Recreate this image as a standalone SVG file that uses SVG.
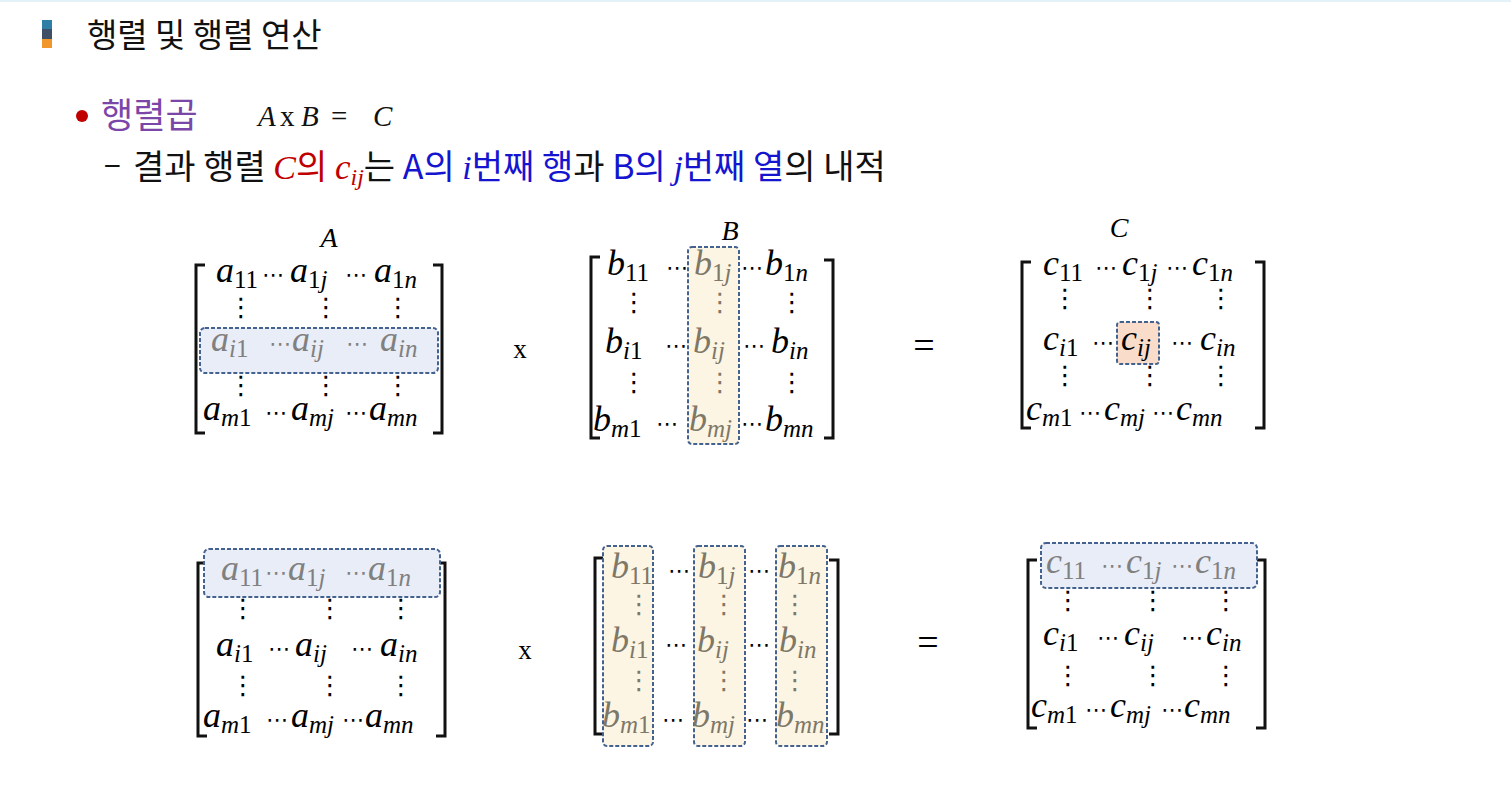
<svg xmlns="http://www.w3.org/2000/svg" width="1511" height="790" viewBox="0 0 1511 790">
<style>
.k{font-family:"Noto Sans CJK KR","Noto Sans",sans-serif}
.m{font-family:"Liberation Serif",serif;font-style:italic;font-size:36px;fill:#000}
.s{font-size:25px;font-style:normal}
.i{font-style:italic}
.d{font-family:"DejaVu Sans",sans-serif;font-size:22px;font-style:normal;fill:#000}
.v{font-size:26px;text-anchor:middle}
.g{fill:#808080}
.y{fill:#7D7868}
.br{fill:none;stroke:#111;stroke-width:3}
.hb{fill:#E9EDF7;stroke:#44628F;stroke-width:2;stroke-dasharray:4 2}
.hy{fill:#FDF5E3;stroke:#44628F;stroke-width:2;stroke-dasharray:4 2}
.hp{fill:#FADCCB;stroke:#44628F;stroke-width:2;stroke-dasharray:4 2}
.op{font-family:"Liberation Serif",serif;font-size:27px;fill:#000;text-anchor:middle}
.eq{font-family:"Liberation Serif",serif;font-size:38px;fill:#000;text-anchor:middle}
.lb{font-family:"Liberation Serif",serif;font-style:italic;font-size:28px;fill:#000;text-anchor:middle}
.mi{font-family:"Liberation Serif",serif;font-style:italic}
</style>
<rect x="0" y="0" width="1511" height="2" fill="#E4F1F8"/>
<g id="header">
<rect x="42" y="20" width="10" height="9" fill="#2E7EA6"/>
<rect x="42" y="29" width="10" height="10" fill="#3E4F66"/>
<rect x="42" y="39" width="10" height="9" fill="#F0962A"/>
<text class="k" x="87" y="47" font-size="33" fill="#111">행렬 및 행렬 연산</text>
</g>
<g id="bullet">
<circle cx="82" cy="116" r="6" fill="#C00000"/>
<text class="k" x="101" y="128" font-size="35" fill="#7A46A8">행렬곱</text>
<g font-family="Liberation Serif,serif" font-size="29" fill="#111">
<text x="258" y="126" font-style="italic">A</text>
<text x="280" y="126">x</text>
<text x="301" y="126" font-style="italic">B</text>
<text x="331" y="126">=</text>
<text x="373" y="126" font-style="italic">C</text>
</g>
</g>
<g id="desc">
<text class="k" x="104" y="177" font-size="30" fill="#111">−</text>
<text class="k" x="133" y="179" font-size="34" fill="#111">결과 행렬 <tspan class="mi" fill="#C00000" font-size="34">C</tspan><tspan fill="#C00000">의 </tspan><tspan class="mi" fill="#C00000" font-size="35">c</tspan><tspan class="mi" fill="#C00000" font-size="24" dy="6">ij</tspan><tspan dy="-6">는 </tspan><tspan fill="#1515D0">A의 </tspan><tspan class="mi" fill="#1515D0" font-size="34">i</tspan><tspan fill="#1515D0">번째 행</tspan><tspan>과 </tspan><tspan fill="#1515D0">B의 </tspan><tspan class="mi" fill="#1515D0" font-size="34">j</tspan><tspan fill="#1515D0">번째 열</tspan><tspan>의 내적</tspan></text>
</g>

<g id="matA1">
<text class="lb" x="329" y="247">A</text>
<path class="br" d="M205,265 H196 V433 H205 M433,265 H442 V433 H433"/>
<rect class="hb" x="200" y="328" width="238" height="45" rx="5"/>
<text class="m" x="216" y="282">a<tspan class="s" dy="6">11</tspan></text>
<text class="d" x="262" y="282">⋯</text>
<text class="m" x="290" y="282">a<tspan class="s" dy="6">1<tspan class="i">j</tspan></tspan></text>
<text class="d" x="345" y="282">⋯</text>
<text class="m" x="374" y="282">a<tspan class="s" dy="6">1<tspan class="i">n</tspan></tspan></text>
<text class="d v" x="241" y="316">⋮</text><text class="d v" x="326" y="316">⋮</text><text class="d v" x="398" y="316">⋮</text>
<text class="m g" x="211" y="351">a<tspan class="s" dy="6"><tspan class="i">i</tspan>1</tspan></text>
<text class="d g" x="269" y="351">⋯</text>
<text class="m g" x="292" y="351">a<tspan class="s i" dy="6">ij</tspan></text>
<text class="d g" x="346" y="351">⋯</text>
<text class="m g" x="380" y="351">a<tspan class="s i" dy="6">in</tspan></text>
<text class="d v" x="241" y="394">⋮</text><text class="d v" x="326" y="394">⋮</text><text class="d v" x="398" y="394">⋮</text>
<text class="m" x="203" y="420">a<tspan class="s" dy="6"><tspan class="i">m</tspan>1</tspan></text>
<text class="d" x="265" y="420">⋯</text>
<text class="m" x="291" y="420">a<tspan class="s i" dy="6">mj</tspan></text>
<text class="d" x="345" y="420">⋯</text>
<text class="m" x="369" y="420">a<tspan class="s i" dy="6">mn</tspan></text>
</g>

<g id="op1"><text class="op" x="520" y="358">x</text></g>

<g id="matB1">
<text class="lb" x="730" y="240">B</text>
<path class="br" d="M600,257 H591 V438 H600 M824,260 H833 V438 H824"/>
<rect class="hy" x="688" y="247" width="51" height="197" rx="4"/>
<text class="m" x="607" y="275">b<tspan class="s" dy="6">11</tspan></text>
<text class="d" x="666" y="275">⋯</text>
<text class="m y" x="694" y="275">b<tspan class="s" dy="6">1<tspan class="i">j</tspan></tspan></text>
<text class="d" x="741" y="275">⋯</text>
<text class="m" x="765" y="275">b<tspan class="s" dy="6">1<tspan class="i">n</tspan></tspan></text>
<text class="d v" x="634" y="311">⋮</text><text class="d v y" x="720" y="311">⋮</text><text class="d v" x="792" y="311">⋮</text>
<text class="m" x="605" y="353">b<tspan class="s" dy="6"><tspan class="i">i</tspan>1</tspan></text>
<text class="d" x="665" y="353">⋯</text>
<text class="m y" x="693" y="353">b<tspan class="s i" dy="6">ij</tspan></text>
<text class="d" x="743" y="353">⋯</text>
<text class="m" x="771" y="353">b<tspan class="s i" dy="6">in</tspan></text>
<text class="d v" x="634" y="391">⋮</text><text class="d v y" x="720" y="391">⋮</text><text class="d v" x="792" y="391">⋮</text>
<text class="m" x="593" y="431">b<tspan class="s" dy="6"><tspan class="i">m</tspan>1</tspan></text>
<text class="d" x="656" y="431">⋯</text>
<text class="m y" x="689" y="431">b<tspan class="s i" dy="6">mj</tspan></text>
<text class="d" x="741" y="431">⋯</text>
<text class="m" x="765" y="431">b<tspan class="s i" dy="6">mn</tspan></text>
</g>

<g id="op2"><text class="eq" x="924" y="358">=</text></g>

<g id="matC1">
<text class="lb" x="1119" y="237">C</text>
<path class="br" d="M1031,262 H1022 V428 H1031 M1255,262 H1264 V428 H1255"/>
<rect class="hp" x="1117" y="322" width="42" height="42" rx="3"/>
<text class="m" x="1043" y="275">c<tspan class="s" dy="6">11</tspan></text>
<text class="d" x="1095" y="275">⋯</text>
<text class="m" x="1122" y="275">c<tspan class="s" dy="6">1<tspan class="i">j</tspan></tspan></text>
<text class="d" x="1166" y="275">⋯</text>
<text class="m" x="1192" y="275">c<tspan class="s" dy="6">1<tspan class="i">n</tspan></tspan></text>
<text class="d v" x="1065" y="307">⋮</text><text class="d v" x="1150" y="307">⋮</text><text class="d v" x="1221" y="307">⋮</text>
<text class="m" x="1043" y="350">c<tspan class="s" dy="6"><tspan class="i">i</tspan>1</tspan></text>
<text class="d" x="1092" y="350">⋯</text>
<text class="m" x="1121" y="350">c<tspan class="s i" dy="6">ij</tspan></text>
<text class="d" x="1171" y="350">⋯</text>
<text class="m" x="1200" y="350">c<tspan class="s i" dy="6">in</tspan></text>
<text class="d v" x="1065" y="384">⋮</text><text class="d v" x="1150" y="384">⋮</text><text class="d v" x="1221" y="384">⋮</text>
<text class="m" x="1026" y="420">c<tspan class="s" dy="6"><tspan class="i">m</tspan>1</tspan></text>
<text class="d" x="1079" y="420">⋯</text>
<text class="m" x="1104" y="420">c<tspan class="s i" dy="6">mj</tspan></text>
<text class="d" x="1152" y="420">⋯</text>
<text class="m" x="1176" y="420">c<tspan class="s i" dy="6">mn</tspan></text>
</g>

<g id="matA2">
<path class="br" d="M207,563 H198 V736 H207 M436,563 H445 V736 H436"/>
<rect class="hb" x="204" y="549" width="236" height="48" rx="5"/>
<text class="m g" x="221" y="580">a<tspan class="s" dy="6">11</tspan></text>
<text class="d g" x="265" y="580">⋯</text>
<text class="m g" x="288" y="580">a<tspan class="s" dy="6">1<tspan class="i">j</tspan></tspan></text>
<text class="d g" x="345" y="580">⋯</text>
<text class="m g" x="368" y="580">a<tspan class="s" dy="6">1<tspan class="i">n</tspan></tspan></text>
<text class="d v" x="243" y="617">⋮</text><text class="d v" x="330" y="617">⋮</text><text class="d v" x="401" y="617">⋮</text>
<text class="m" x="216" y="656">a<tspan class="s" dy="6"><tspan class="i">i</tspan>1</tspan></text>
<text class="d" x="268" y="656">⋯</text>
<text class="m" x="295" y="656">a<tspan class="s i" dy="6">ij</tspan></text>
<text class="d" x="351" y="656">⋯</text>
<text class="m" x="380" y="656">a<tspan class="s i" dy="6">in</tspan></text>
<text class="d v" x="243" y="694">⋮</text><text class="d v" x="330" y="694">⋮</text><text class="d v" x="401" y="694">⋮</text>
<text class="m" x="203" y="727">a<tspan class="s" dy="6"><tspan class="i">m</tspan>1</tspan></text>
<text class="d" x="266" y="727">⋯</text>
<text class="m" x="291" y="727">a<tspan class="s i" dy="6">mj</tspan></text>
<text class="d" x="342" y="727">⋯</text>
<text class="m" x="365" y="727">a<tspan class="s i" dy="6">mn</tspan></text>
</g>

<g id="op3"><text class="op" x="525" y="659">x</text></g>

<g id="matB2">
<path class="br" d="M604,558 H595 V734 H604 M829,560 H838 V734 H829"/>
<rect class="hy" x="603" y="546" width="50" height="200" rx="4"/>
<rect class="hy" x="694" y="546" width="51" height="200" rx="4"/>
<rect class="hy" x="776" y="546" width="51" height="200" rx="4"/>
<text class="m y" x="611" y="578">b<tspan class="s" dy="6">11</tspan></text>
<text class="d" x="668" y="578">⋯</text>
<text class="m y" x="698" y="578">b<tspan class="s" dy="6">1<tspan class="i">j</tspan></tspan></text>
<text class="d" x="748" y="578">⋯</text>
<text class="m y" x="778" y="578">b<tspan class="s" dy="6">1<tspan class="i">n</tspan></tspan></text>
<text class="d v y" x="639" y="613">⋮</text><text class="d v y" x="724" y="613">⋮</text><text class="d v y" x="795" y="613">⋮</text>
<text class="m y" x="611" y="652">b<tspan class="s" dy="6"><tspan class="i">i</tspan>1</tspan></text>
<text class="d" x="665" y="652">⋯</text>
<text class="m y" x="697" y="652">b<tspan class="s i" dy="6">ij</tspan></text>
<text class="d" x="748" y="652">⋯</text>
<text class="m y" x="779" y="652">b<tspan class="s i" dy="6">in</tspan></text>
<text class="d v y" x="639" y="689">⋮</text><text class="d v y" x="724" y="689">⋮</text><text class="d v y" x="795" y="689">⋮</text>
<text class="m y" x="602" y="727">b<tspan class="s" dy="6"><tspan class="i">m</tspan>1</tspan></text>
<text class="d" x="662" y="727">⋯</text>
<text class="m y" x="692" y="727">b<tspan class="s i" dy="6">mj</tspan></text>
<text class="d" x="746" y="727">⋯</text>
<text class="m y" x="776" y="727">b<tspan class="s i" dy="6">mn</tspan></text>
</g>

<g id="op4"><text class="eq" x="928" y="655">=</text></g>

<g id="matC2">
<path class="br" d="M1037,560 H1028 V728 H1037 M1256,560 H1265 V728 H1256"/>
<rect class="hb" x="1041" y="543" width="216" height="45" rx="5"/>
<text class="m g" x="1046" y="573">c<tspan class="s" dy="6">11</tspan></text>
<text class="d g" x="1101" y="573">⋯</text>
<text class="m g" x="1126" y="573">c<tspan class="s" dy="6">1<tspan class="i">j</tspan></tspan></text>
<text class="d g" x="1171" y="573">⋯</text>
<text class="m g" x="1195" y="573">c<tspan class="s" dy="6">1<tspan class="i">n</tspan></tspan></text>
<text class="d v" x="1068" y="609">⋮</text><text class="d v" x="1153" y="609">⋮</text><text class="d v" x="1226" y="609">⋮</text>
<text class="m" x="1043" y="645">c<tspan class="s" dy="6"><tspan class="i">i</tspan>1</tspan></text>
<text class="d" x="1097" y="645">⋯</text>
<text class="m" x="1124" y="645">c<tspan class="s i" dy="6">ij</tspan></text>
<text class="d" x="1181" y="645">⋯</text>
<text class="m" x="1206" y="645">c<tspan class="s i" dy="6">in</tspan></text>
<text class="d v" x="1068" y="684">⋮</text><text class="d v" x="1153" y="684">⋮</text><text class="d v" x="1226" y="684">⋮</text>
<text class="m" x="1031" y="717">c<tspan class="s" dy="6"><tspan class="i">m</tspan>1</tspan></text>
<text class="d" x="1085" y="717">⋯</text>
<text class="m" x="1110" y="717">c<tspan class="s i" dy="6">mj</tspan></text>
<text class="d" x="1161" y="717">⋯</text>
<text class="m" x="1184" y="717">c<tspan class="s i" dy="6">mn</tspan></text>
</g>
</svg>
